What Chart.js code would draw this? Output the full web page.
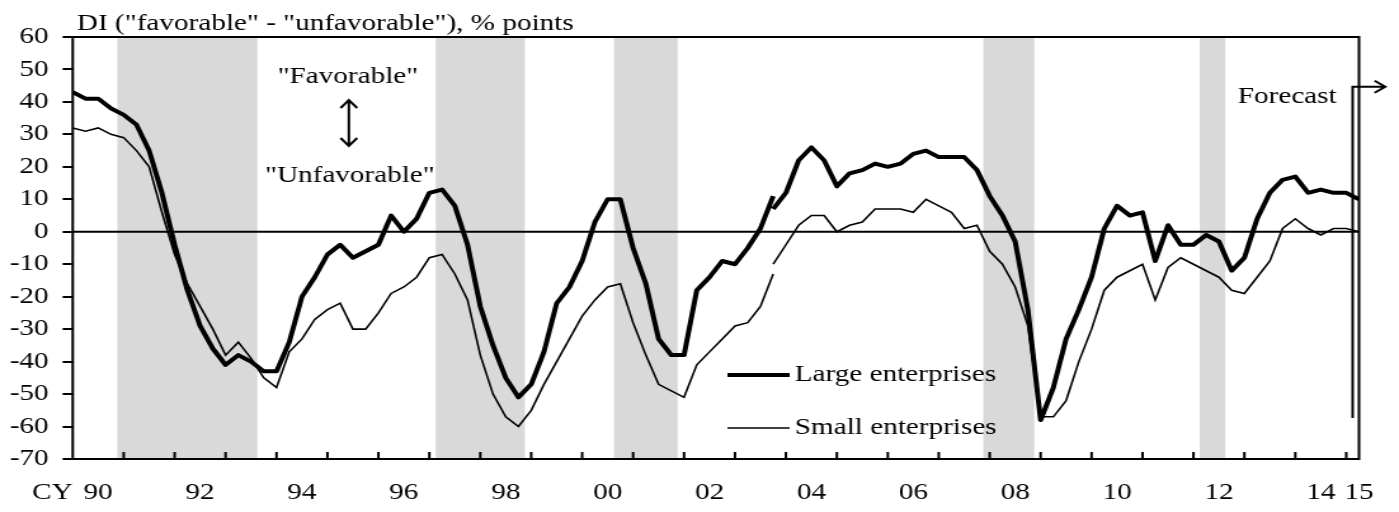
<!DOCTYPE html>
<html>
<head>
<meta charset="utf-8">
<script src="https://cdn.jsdelivr.net/npm/chart.js@4"></script>
<style>
  html, body { margin: 0; padding: 0; background: #fff; overflow: hidden; }
  /* the reference is drawn with wide (horizontally stretched) lettering */
  #wrap { width: 1102px; height: 512px; transform: scaleX(1.2695); transform-origin: 0 0; }
</style>
</head>
<body>
<div id="wrap"><canvas id="myChart" width="1102" height="512"></canvas></div>
<script>
const ctx = document.getElementById('myChart');

// quarterly data, 1990Q1 .. 2015Q2 (last point = forecast)
const firstQuarter = '1990Q1';
const lastQuarter = '2015Q2';
const seriesBreak = '2003Q4'; // survey revision: old and new basis both shown for this quarter

// old basis 1990Q1 .. 2003Q4
const largeOld = [43, 41, 41, 38, 36, 33, 25, 12, -4, -18, -29, -36, -41, -38, -40, -43,
  -43, -34, -20, -14, -7, -4, -8, -6, -4, 5, 0, 4, 12, 13, 8, -4,
  -23, -35, -45, -51, -47, -37, -22, -17, -9, 3, 10, 10, -5, -16, -33, -38,
  -38, -18, -14, -9, -10, -5, 1, 11];
const smallOld = [32, 31, 32, 30, 29, 25, 20, 6, -7, -16, -23, -30, -38, -34, -39, -45,
  -48, -37, -33, -27, -24, -22, -30, -30, -25, -19, -17, -14, -8, -7, -13, -21,
  -38, -50, -57, -60, -55, -47, -40, -33, -26, -21, -17, -16, -28, -38, -47, -49,
  -51, -41, -37, -33, -29, -28, -23, -13];
// new basis 2003Q4 .. 2015Q2
const largeNew = [7, 12, 22, 26, 22, 14, 18, 19, 21, 20, 21, 24, 25, 23, 23, 23, 19,
  11, 5, -3, -24, -58, -48, -33, -24, -14, 1, 8, 5, 6, -9, 2, -4,
  -4, -1, -3, -12, -8, 4, 12, 16, 17, 12, 13, 12, 12, 10];
const smallNew = [-10, -4, 2, 5, 5, 0, 2, 3, 7, 7, 7, 6, 10, 8, 6, 1, 2,
  -6, -10, -17, -29, -57, -57, -52, -40, -30, -18, -14, -12, -10, -21, -11, -8,
  -10, -12, -14, -18, -19, -14, -9, 1, 4, 1, -1, 1, 1, 0];

// shaded periods (recessions), first and last quarter
const recessionFrom = ['1991Q1', '1997Q2', '2000Q4', '2008Q1', '2012Q2'];
const recessionTo   = ['1993Q3', '1998Q4', '2001Q4', '2008Q4', '2012Q3'];

const yearTicks = [1990, 1992, 1994, 1996, 1998, 2000, 2002, 2004, 2006, 2008, 2010, 2012, 2014, 2015];
const yearLabels = ['90', '92', '94', '96', '98', '00', '02', '04', '06', '08', '10', '12', '14', '15'];

const FONT = '"Liberation Serif", "Times New Roman", serif';
const FSIZE = 23;

function qIndex(s) {
  const y = +s.slice(0, 4), q = +s.slice(5);
  const y0 = +firstQuarter.slice(0, 4), q0 = +firstQuarter.slice(5);
  return (y - y0) * 4 + (q - q0);
}
const xMax = qIndex(lastQuarter);

function joinSeries(oldVals, newVals) {
  const pts = oldVals.map((v, i) => ({x: i, y: v}));
  const b = qIndex(seriesBreak);
  pts.push({x: b, y: null});
  newVals.forEach((v, i) => pts.push({x: b + i, y: v}));
  return pts;
}

const decorations = {
  id: 'decorations',
  beforeDatasetsDraw(chart) {
    const {ctx, chartArea: a, scales: {x, y}} = chart;
    ctx.save();
    ctx.fillStyle = '#d9d9d9';
    recessionFrom.forEach((s, i) => {
      const x0 = x.getPixelForValue(qIndex(s) - 0.5);
      const x1 = x.getPixelForValue(qIndex(recessionTo[i]) + 0.5);
      ctx.fillRect(x0, a.top, x1 - x0, a.bottom - a.top);
    });
    ctx.strokeStyle = '#000';
    ctx.lineWidth = 2;
    const y0 = y.getPixelForValue(0);
    ctx.beginPath(); ctx.moveTo(a.left, y0); ctx.lineTo(a.right, y0); ctx.stroke();
    ctx.restore();
  },
  afterDraw(chart) {
    const {ctx, chartArea: a, scales: {x, y}} = chart;
    ctx.save();
    ctx.strokeStyle = '#000';
    ctx.fillStyle = '#000';
    ctx.lineWidth = 2;
    ctx.strokeRect(a.left, a.top, a.right - a.left, a.bottom - a.top);

    // year ticks, pointing up into the plot
    ctx.beginPath();
    for (let v = 4; v <= xMax; v += 4) {
      const px = x.getPixelForValue(v);
      ctx.moveTo(px, a.bottom); ctx.lineTo(px, a.bottom - 7);
    }
    ctx.stroke();

    ctx.font = FSIZE + 'px ' + FONT;
    ctx.textBaseline = 'alphabetic';
    ctx.textAlign = 'left';
    ctx.fillText('DI ("favorable" - "unfavorable"), % points', 60.6, 30);
    ctx.textAlign = 'center';
    ctx.textBaseline = 'middle';
    ctx.fillText('CY', 41.3, x.top + 34);
    ctx.textBaseline = 'alphabetic';
    ctx.fillText('"Favorable"', 274, 83);
    ctx.fillText('"Unfavorable"', 275.6, 181.7);

    // up/down arrow
    const ax = 274.8;
    ctx.beginPath();
    ctx.moveTo(ax, 100); ctx.lineTo(ax, 146);
    ctx.moveTo(ax - 6.5, 108); ctx.lineTo(ax, 100); ctx.lineTo(ax + 6.5, 108);
    ctx.moveTo(ax - 6.5, 138); ctx.lineTo(ax, 146); ctx.lineTo(ax + 6.5, 138);
    ctx.stroke();

    // forecast marker
    const fx = x.getPixelForValue(xMax - 0.5);
    const tip = fx + 25.7;
    ctx.beginPath();
    ctx.moveTo(fx, 418); ctx.lineTo(fx, 86.7); ctx.lineTo(tip, 86.7);
    ctx.moveTo(tip - 8.4, 80.7); ctx.lineTo(tip, 86.7); ctx.lineTo(tip - 8.4, 92.7);
    ctx.stroke();
    ctx.textAlign = 'left';
    ctx.fillText('Forecast', 975, 103);

    // legend
    ctx.textBaseline = 'middle';
    ctx.lineWidth = 4;
    ctx.beginPath(); ctx.moveTo(573, 375); ctx.lineTo(622, 375); ctx.stroke();
    ctx.fillText('Large enterprises', 626, 375);
    ctx.lineWidth = 1.6;
    ctx.beginPath(); ctx.moveTo(573, 428); ctx.lineTo(622, 428); ctx.stroke();
    ctx.fillText('Small enterprises', 626, 428);
    ctx.restore();
  }
};

Chart.defaults.font.family = FONT;
Chart.defaults.font.size = FSIZE;
Chart.defaults.color = '#000';

new Chart(ctx, {
  type: 'line',
  data: {
    datasets: [{
      label: 'Large enterprises',
      data: joinSeries(largeOld, largeNew),
      borderColor: '#000',
      borderWidth: 4,
      pointRadius: 0,
      spanGaps: false,
      borderJoinStyle: 'round'
    }, {
      label: 'Small enterprises',
      data: joinSeries(smallOld, smallNew),
      borderColor: '#000',
      borderWidth: 1.6,
      pointRadius: 0,
      spanGaps: false
    }]
  },
  options: {
    responsive: false,
    animation: false,
    layout: { padding: { top: 37, right: 26.2, left: 0, bottom: 0 } },
    plugins: { legend: { display: false }, tooltip: { enabled: false } },
    scales: {
      x: {
        type: 'linear',
        min: 0,
        max: xMax,
        afterBuildTicks: axis => {
          axis.ticks = yearTicks.map(yr => ({value: Math.min((yr - 1990) * 4 + 2, xMax)}));
        },
        ticks: { autoSkip: false, maxRotation: 0, padding: 20, callback: (v, i) => yearLabels[i] },
        grid: { display: false, drawTicks: false },
        border: { display: false },
        afterFit: s => { s.height = 53; }
      },
      y: {
        min: -70,
        max: 60,
        ticks: { stepSize: 10, padding: 11 },
        grid: { drawOnChartArea: false, drawTicks: true, tickLength: 8, color: '#000', lineWidth: 2 },
        border: { display: false },
        afterFit: s => { s.width = 57.3; }
      }
    }
  },
  plugins: [decorations]
});
</script>
</body>
</html>
